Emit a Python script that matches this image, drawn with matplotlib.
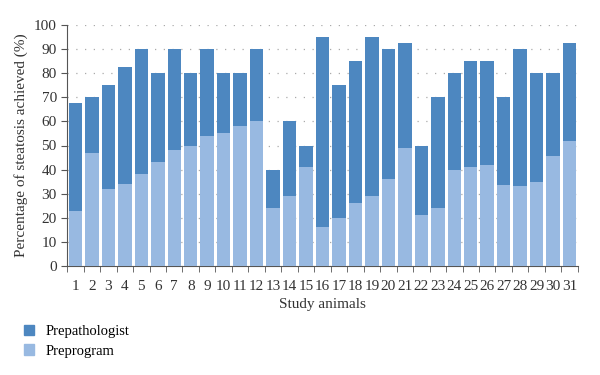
import numpy as np
import matplotlib.pyplot as plt
from matplotlib.patches import Patch

plt.rcParams['font.family'] = ['Liberation Serif', 'DejaVu Serif']

# Data
animals = list(range(1, 32))
prepathologist = [67.5, 70, 75, 82.5, 90, 80, 90, 80, 90, 80, 80, 90, 40, 60, 50, 95,
                  75, 85, 95, 90, 92.5, 50, 70, 80, 85, 85, 70, 90, 80, 80, 92.5]
preprogram = [23, 47, 32, 34, 38, 43, 48, 50, 54, 55, 58, 60, 24, 29, 41, 16,
              20, 26, 29, 36, 49, 21, 24, 40, 41, 42, 33.5, 33, 35, 45.5, 52]

dark = '#4d87c0'
light = '#98b9e1'
grey = '#555555'

fig = plt.figure(figsize=(6, 3.75), dpi=100)
ax = fig.add_axes([0.112, 0.291, 0.851, 0.642])

x = np.array(animals)
ax.bar(x, prepathologist, width=0.82, color=dark, zorder=2)
ax.bar(x, preprogram, width=0.82, color=light, zorder=3)

ax.set_xlim(0.5, 31.5)
ax.set_ylim(0, 100)
ax.set_yticks(range(0, 101, 10))
# sparse dotted gridlines
ax.yaxis.grid(True, linestyle=(0, (1, 6)), color='#aaaaaa', linewidth=0.9, zorder=0)

ax.set_xticks(x)
ax.set_xticks(np.arange(0.5, 32, 1), minor=True)
ax.tick_params(axis='x', which='major', length=0, pad=10, labelsize=11, colors='#333333')
ax.tick_params(axis='x', which='minor', length=4, direction='out', color=grey)
ax.tick_params(axis='y', length=4, direction='out', color=grey, labelsize=11, labelcolor='#333333')

for s in ['top', 'right']:
    ax.spines[s].set_visible(False)
for s in ['left', 'bottom']:
    ax.spines[s].set_color(grey)

ax.set_xlabel('Study animals', fontsize=11, color='#333333', labelpad=4)
ax.set_ylabel('Percentage of steatosis achieved (%)', fontsize=11, color='#333333')

handles = [Patch(color=dark, label='Prepathologist'), Patch(color=light, label='Preprogram')]
fig.legend(handles=handles, loc='upper left', bbox_to_anchor=(0.03, 0.15),
           frameon=False, fontsize=10.5, handlelength=0.7, handleheight=0.7,
           handletextpad=0.8, labelspacing=0.45, borderaxespad=0)

fig.savefig('out.png', dpi=100)
